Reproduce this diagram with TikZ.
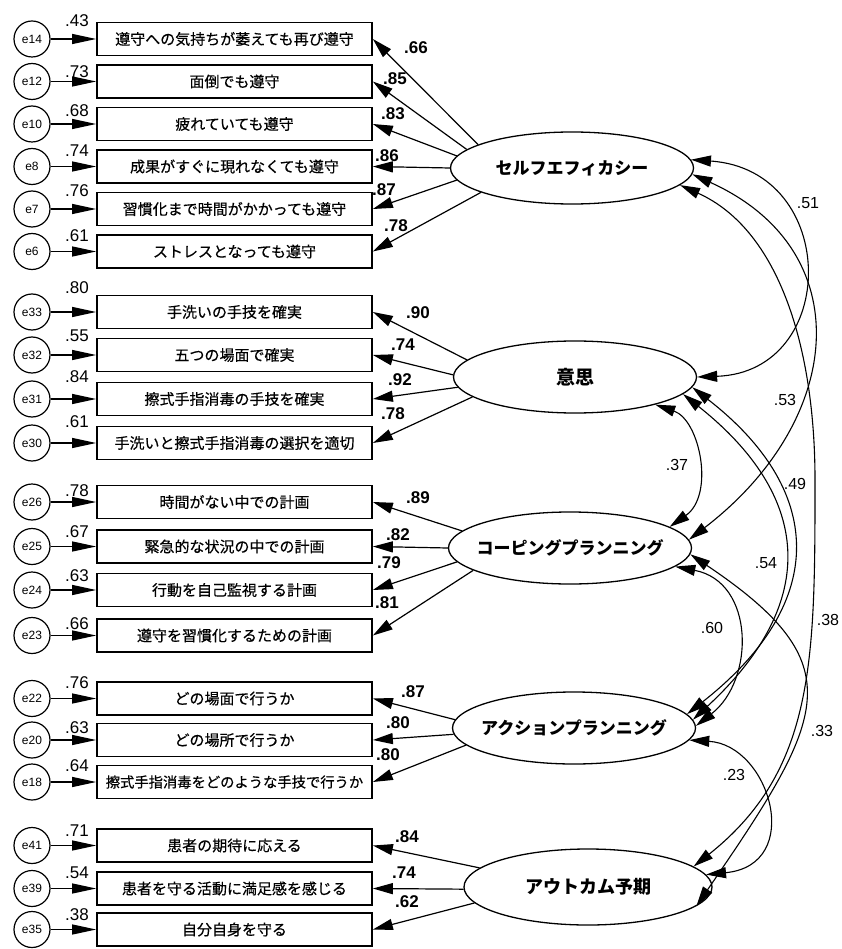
\documentclass[tikz,border=0pt]{standalone}
\usepackage{fontspec}
\setmainfont{Liberation Sans}
\newfontfamily\jp{Noto Sans CJK JP}[FakeBold=0.5]
\newfontfamily\jpb{Noto Sans CJK JP}
\usetikzlibrary{arrows.meta,shapes.geometric}
\tikzset{
  obs/.style={draw, line width=1.7pt, minimum width=275pt, minimum height=33pt, inner sep=0pt, font=\jp\fontsize{15}{17}\selectfont},
  err/.style={draw, circle, line width=1.2pt, minimum size=36pt, inner sep=0pt, font=\fontsize{12}{12}\selectfont},
  lat/.style={draw, ellipse, line width=1.3pt, minimum width=243pt, minimum height=72pt, inner sep=0pt, font=\jpb\bfseries\fontsize{17}{19}\selectfont},
  eff/.style={-{Triangle[length=20pt,width=11pt]}, line width=1.2pt},
  res/.style={-{Triangle[length=24pt,width=10pt]}, line width=1.2pt},
  cov/.style={{Triangle[length=20pt,width=11pt]}-{Triangle[length=20pt,width=11pt]}, line width=1.1pt},
  rsq/.style={font=\fontsize{17}{17}\selectfont},
  ld/.style={font=\bfseries\fontsize{17}{17}\selectfont},
  cv/.style={font=\fontsize{16}{16}\selectfont}
}
\begin{document}
\begin{tikzpicture}[x=1pt,y=-1pt]
  \useasboundingbox (0,0) rectangle (841,949);
  \node[lat] (se) at (572,168) {\makebox[0pt]{セルフエフィカシー}};
  \node[lat] (int) at (575,377) {\makebox[0pt]{\fontsize{19}{19}\selectfont 意思}};
  \node[lat] (cop) at (570,548) {\makebox[0pt]{コーピングプランニング}};
  \node[lat] (act) at (574,728) {\makebox[0pt]{アクションプランニング}};
  \node[lat, minimum width=248pt, minimum height=76pt] (out) at (588,887) {\makebox[0pt]{\fontsize{18}{18}\selectfont アウトカム予期}};

  \node[obs] (v14) at (234.5,39) {遵守への気持ちが萎えても再び遵守};
  \node[err] (e14) at (32,39) {e14};
  \draw[res] (e14) -- (v14);
  \node[rsq] (r14) at (77,21) {.43};
  \draw[eff] (se.166) -- (v14.east);
  \node[ld] (l14) at (416,48) {.66};

  \node[obs] (v12) at (234.5,81.5) {面倒でも遵守};
  \node[err] (e12) at (32,81.5) {e12};
  \draw[res] (e12) -- (v12);
  \node[rsq] (r12) at (77,72) {.73};
  \draw[eff] (se.170) -- (v12.east);
  \node[ld] (l12) at (395,79) {.85};

  \node[obs] (v10) at (234.5,124) {疲れていても遵守};
  \node[err] (e10) at (32,124) {e10};
  \draw[res] (e10) -- (v10);
  \node[rsq] (r10) at (77,111) {.68};
  \draw[eff] (se.174) -- (v10.east);
  \node[ld] (l10) at (393,114) {.83};

  \node[obs] (v8) at (234.5,166.5) {成果がすぐに現れなくても遵守};
  \node[err] (e8) at (32,166.5) {e8};
  \draw[res] (e8) -- (v8);
  \node[rsq] (r8) at (77,151) {.74};
  \draw[eff] (se.180) -- (v8.east);
  \node[ld] (l8) at (387,156) {.86};

  \node[obs] (v7) at (234.5,209) {習慣化まで時間がかかっても遵守};
  \node[err] (e7) at (32,209) {e7};
  \draw[res] (e7) -- (v7);
  \node[rsq] (r7) at (77,191) {.76};
  \draw[eff] (se.186) -- (v7.east);
  \node[ld] (l7) at (384,190) {.87};

  \node[obs] (v6) at (234.5,251.5) {ストレスとなっても遵守};
  \node[err] (e6) at (32,251.5) {e6};
  \draw[res] (e6) -- (v6);
  \node[rsq] (r6) at (77,236) {.61};
  \draw[eff] (se.195) -- (v6.east);
  \node[ld] (l6) at (396,226) {.78};

  \node[obs] (v33) at (234.5,312) {手洗いの手技を確実};
  \node[err] (e33) at (32,312) {e33};
  \draw[res] (e33) -- (v33);
  \node[rsq] (r33) at (77,288) {.80};
  \draw[eff] (int.171) -- (v33.east);
  \node[ld] (l33) at (418,313) {.90};

  \node[obs] (v32) at (234.5,355) {五つの場面で確実};
  \node[err] (e32) at (32,355) {e32};
  \draw[res] (e32) -- (v32);
  \node[rsq] (r32) at (77,336) {.55};
  \draw[eff] (int.179) -- (v32.east);
  \node[ld] (l32) at (403,345) {.74};

  \node[obs] (v31) at (234.5,399) {擦式手指消毒の手技を確実};
  \node[err] (e31) at (32,399) {e31};
  \draw[res] (e31) -- (v31);
  \node[rsq] (r31) at (77,377) {.84};
  \draw[eff] (int.185) -- (v31.east);
  \node[ld] (l31) at (400,380) {.92};

  \node[obs] (v30) at (234.5,443) {手洗いと擦式手指消毒の選択を適切};
  \node[err] (e30) at (32,443) {e30};
  \draw[res] (e30) -- (v30);
  \node[rsq] (r30) at (77,422) {.61};
  \draw[eff] (int.191) -- (v30.east);
  \node[ld] (l30) at (393,414) {.78};

  \node[obs] (v26) at (234.5,502) {時間がない中での計画};
  \node[err] (e26) at (32,502) {e26};
  \draw[res] (e26) -- (v26);
  \node[rsq] (r26) at (77,491) {.78};
  \draw[eff] (cop.171) -- (v26.east);
  \node[ld] (l26) at (418,498) {.89};

  \node[obs] (v25) at (234.5,546.5) {緊急的な状況の中での計画};
  \node[err] (e25) at (32,546.5) {e25};
  \draw[res] (e25) -- (v25);
  \node[rsq] (r25) at (77,532) {.67};
  \draw[eff] (cop.180) -- (v25.east);
  \node[ld] (l25) at (398,535) {.82};

  \node[obs] (v24) at (234.5,590) {行動を自己監視する計画};
  \node[err] (e24) at (32,590) {e24};
  \draw[res] (e24) -- (v24);
  \node[rsq] (r24) at (77,576) {.63};
  \draw[eff] (cop.187) -- (v24.east);
  \node[ld] (l24) at (389,563) {.79};

  \node[obs] (v23) at (234.5,635.5) {遵守を習慣化するための計画};
  \node[err] (e23) at (32,635.5) {e23};
  \draw[res] (e23) -- (v23);
  \node[rsq] (r23) at (77,624) {.66};
  \draw[eff] (cop.193) -- (v23.east);
  \node[ld] (l23) at (387,603) {.81};

  \node[obs] (v22) at (234.5,698.5) {どの場面で行うか};
  \node[err] (e22) at (32,698.5) {e22};
  \draw[res] (e22) -- (v22);
  \node[rsq] (r22) at (77,683) {.76};
  \draw[eff] (act.176) -- (v22.east);
  \node[ld] (l22) at (413,692) {.87};

  \node[obs] (v20) at (234.5,740) {どの場所で行うか};
  \node[err] (e20) at (32,740) {e20};
  \draw[res] (e20) -- (v20);
  \node[rsq] (r20) at (77,728) {.63};
  \draw[eff] (act.183) -- (v20.east);
  \node[ld] (l20) at (398,723) {.80};

  \node[obs, font=\jp\fontsize{14.3}{17}\selectfont] (v18) at (234.5,782) {擦式手指消毒をどのような手技で行うか};
  \node[err] (e18) at (32,782) {e18};
  \draw[res] (e18) -- (v18);
  \node[rsq] (r18) at (77,766) {.64};
  \draw[eff] (act.189) -- (v18.east);
  \node[ld] (l18) at (388,755) {.80};

  \node[obs] (v41) at (234.5,845.5) {患者の期待に応える};
  \node[err] (e41) at (32,845.5) {e41};
  \draw[res] (e41) -- (v41);
  \node[rsq] (r41) at (77,831) {.71};
  \draw[eff] (out.170) -- (v41.east);
  \node[ld] (l41) at (407,837) {.84};

  \node[obs] (v39) at (234.5,888.5) {患者を守る活動に満足感を感じる};
  \node[err] (e39) at (32,888.5) {e39};
  \draw[res] (e39) -- (v39);
  \node[rsq] (r39) at (77,873) {.54};
  \draw[eff] (out.181) -- (v39.east);
  \node[ld] (l39) at (404,873) {.74};

  \node[obs] (v35) at (234.5,929.5) {自分自身を守る};
  \node[err] (e35) at (32,929.5) {e35};
  \draw[res] (e35) -- (v35);
  \node[rsq] (r35) at (77,915) {.38};
  \draw[eff] (out.188) -- (v35.east);
  \node[ld] (l35) at (407,902) {.62};

  \draw[cov] (se.4) .. controls (840,170) and (840,372) .. (int.0);
  \node[cv] (c1) at (808,203) {.51};
  \draw[cov] (se.-3) .. controls (860,250) and (845,420) .. (cop.4);
  \node[cv] (c2) at (785,400) {.53};
  \draw[cov] (se.-9) .. controls (780,230) and (815,350) .. (815,480)
    .. controls (815,660) and (815,770) .. (out.11);
  \node[cv] (c3) at (828,620) {.38};
  \draw[cov] (int.-19) .. controls (700,420) and (715,495) .. (cop.12);
  \node[cv] (c4) at (677,465) {.37};
  \draw[cov] (int.-9) .. controls (810,495) and (822,600) .. (act.4);
  \node[cv] (c5) at (766,563) {.54};
  \draw[cov] (int.-5) .. controls (822,488) and (832,600) .. (act.7);
  \node[cv] (c6) at (795,484) {.49};
  \draw[cov] (cop.-10) .. controls (755,582) and (755,680) .. (act.1);
  \node[cv] (c7) at (712,628) {.60};
  \draw[cov] (cop.-3) .. controls (855,665) and (826,717) .. (out.-10);
  \node[cv] (c8) at (822,731) {.33};
  \draw[cov] (act.-6) .. controls (770,745) and (805,865) .. (out.6);
  \node[cv] (c9) at (734,775) {.23};
\end{tikzpicture}
\end{document}
